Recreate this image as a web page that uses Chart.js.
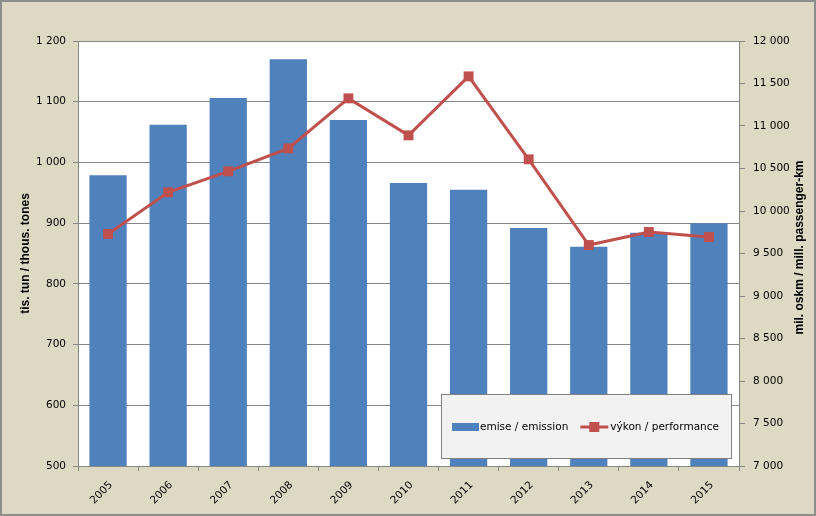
<!DOCTYPE html>
<html><head><meta charset="utf-8">
<script src="https://cdn.jsdelivr.net/npm/chart.js@4/dist/chart.umd.min.js"></script>
<style>html,body{margin:0;padding:0;background:#DDD9C3;}canvas{display:block;}</style>
</head><body>
<canvas id="c" width="816" height="516"></canvas>
<script>
// ---- data ----
const years = ['2005','2006','2007','2008','2009','2010','2011','2012','2013','2014','2015'];
const emissions = [979, 1062, 1106, 1170, 1070, 966, 955, 892, 861, 884, 900];
const performance = [9730, 10220, 10467, 10737, 11325, 10890, 11584, 10608, 9600, 9753, 9694];
const seriesLabels = ['emise / emission', 'výkon / performance'];
const leftTitle = 'tis. tun / thous. tones';
const rightTitle = 'mil. oskm / mill. passenger-km';
const leftRange = [500, 1200, 100];
const rightRange = [7000, 12000, 500];

const fmt = v => { const s = String(Math.round(v)); return s.length > 3 ? s.slice(0, s.length-3) + ' ' + s.slice(-3) : s; };

const FONT = 'DejaVu Sans';
const TITLE_FONT = 'Liberation Sans';
const GRID = '#868686';
const BAR = '#4F81BD';
const LINE = '#C0504D';
Chart.defaults.font.family = FONT;
Chart.defaults.font.size = 10.5;
Chart.defaults.color = '#000';

const frame = {
  id: 'frame',
  beforeDraw(chart) {
    const {ctx, chartArea: a, width, height} = chart;
    ctx.save();
    ctx.fillStyle = '#DDD9C3';
    ctx.fillRect(0, 0, width, height);
    ctx.strokeStyle = '#8C8C8C';
    ctx.lineWidth = 2;
    ctx.strokeRect(1, 1, width - 2, height - 2);
    ctx.fillStyle = '#FFFFFF';
    ctx.fillRect(a.left, a.top, a.right - a.left, a.bottom - a.top);
    ctx.restore();
  },
  afterDraw(chart) {
    const {ctx, chartArea: a} = chart;
    const t = chart.options.scales.y1.title;
    ctx.save();
    ctx.translate(chart.width - 16, (a.top + a.bottom) / 2 - 6);
    ctx.rotate(-Math.PI / 2);
    ctx.font = 'bold 12px "' + TITLE_FONT + '"';
    ctx.fillStyle = '#000';
    ctx.textAlign = 'center';
    ctx.textBaseline = 'middle';
    ctx.fillText(t.text, 0, 0);
    ctx.restore();
  }
};

const boxLegend = {
  id: 'boxLegend',
  afterDatasetsDraw(chart) {
    const {ctx, chartArea: a} = chart;
    const ds = chart.data.datasets;
    const left = a.right - 298, top = a.bottom - 72, w = 290, h = 64;
    ctx.save();
    ctx.fillStyle = '#F2F2F2';
    ctx.fillRect(left, top, w, h);
    ctx.strokeStyle = '#808080';
    ctx.lineWidth = 1;
    ctx.strokeRect(left + 0.5, top + 0.5, w, h);
    const cy = top + 33;
    ctx.font = '10.5px "' + FONT + '"';
    ctx.fillStyle = '#000';
    ctx.textBaseline = 'middle';
    // bar item
    let x = left + 11;
    ctx.fillStyle = ds[0].backgroundColor;
    ctx.fillRect(x, cy - 4, 27, 8);
    ctx.fillStyle = '#000';
    ctx.fillText(ds[0].label, x + 28, cy);
    x = x + 28 + ctx.measureText(ds[0].label).width + 12;
    // line item
    ctx.strokeStyle = ds[1].borderColor;
    ctx.lineWidth = 3;
    ctx.beginPath(); ctx.moveTo(x, cy); ctx.lineTo(x + 28, cy); ctx.stroke();
    ctx.fillStyle = ds[1].borderColor;
    ctx.fillRect(x + 14 - 5, cy - 5, 10, 10);
    ctx.fillStyle = '#000';
    ctx.fillText(ds[1].label, x + 30, cy);
    ctx.restore();
  }
};

new Chart(document.getElementById('c'), {
  data: {
    labels: years,
    datasets: [
      { type: 'bar', label: seriesLabels[0], data: emissions, yAxisID: 'y',
        backgroundColor: BAR, borderWidth: 0, barPercentage: 0.62, categoryPercentage: 1, order: 2 },
      { type: 'line', label: seriesLabels[1], data: performance, yAxisID: 'y1',
        borderColor: LINE, backgroundColor: LINE, borderWidth: 3, pointStyle: 'rect',
        pointRadius: 7, pointBorderWidth: 0, pointBackgroundColor: LINE, tension: 0, order: 1 }
    ]
  },
  options: {
    responsive: false,
    animation: false,
    devicePixelRatio: 1,
    layout: { padding: { top: 41, left: 0, right: 0, bottom: 0 } },
    plugins: { legend: { display: false }, tooltip: { enabled: false } },
    scales: {
      x: {
        type: 'category', offset: true,
        grid: { offset: true, drawOnChartArea: false, drawTicks: true, tickLength: 5, color: GRID },
        border: { color: GRID },
        ticks: { minRotation: 45, maxRotation: 45, padding: 8, labelOffset: 3, autoSkip: false },
        afterFit: s => { s.height = 50; }
      },
      y: {
        position: 'left', min: leftRange[0], max: leftRange[1],
        ticks: { stepSize: leftRange[2], padding: 7, callback: v => fmt(v) },
        grid: { color: GRID, tickLength: 5 },
        border: { color: GRID },
        title: { display: true, text: leftTitle, padding: { top: 18, bottom: 0 },
                 font: { family: TITLE_FONT, size: 12, weight: 'bold' } },
        afterFit: s => { s.width = 78; }
      },
      y1: {
        position: 'right', min: rightRange[0], max: rightRange[1],
        ticks: { stepSize: rightRange[2], padding: 8, callback: v => fmt(v) },
        grid: { drawOnChartArea: false, color: GRID, tickLength: 6 },
        border: { color: GRID },
        title: { display: false, text: rightTitle },
        afterFit: s => { s.width = 77; }
      }
    }
  },
  plugins: [frame, boxLegend]
});
</script>
</body></html>
